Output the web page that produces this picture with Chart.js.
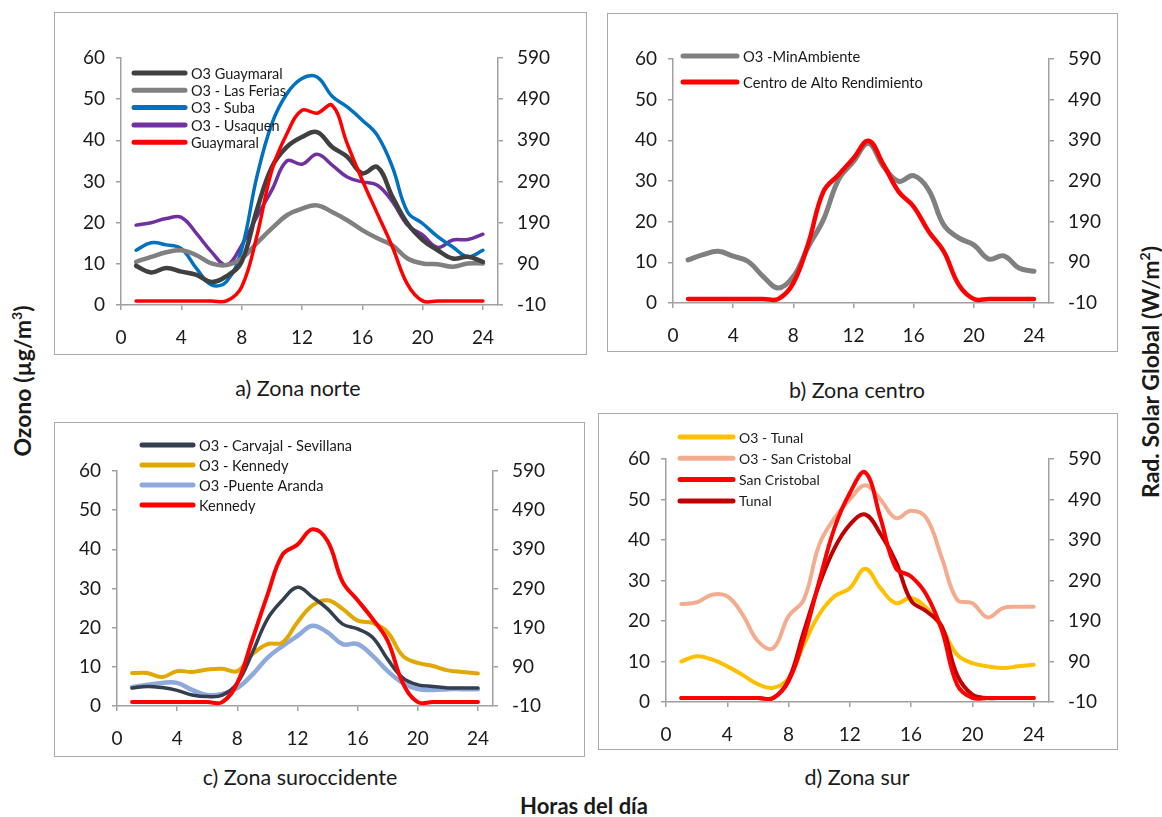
<!DOCTYPE html>
<html>
<head>
<meta charset="utf-8">
<script src="https://cdn.jsdelivr.net/npm/chart.js@4.4.1/dist/chart.umd.min.js"></script>
<style>
  html, body { margin: 0; padding: 0; background: #fff; }
  body { width: 1162px; height: 817px; position: relative; overflow: hidden; font-family: Lato, "Open Sans", sans-serif; color: #1a1a1a; }
  .frame { position: absolute; border: 1.5px solid #a9a9a9; box-sizing: border-box; }
  canvas { position: absolute; }
  .cap { position: absolute; font-size: 21.5px; line-height: 24px; white-space: nowrap; transform: translate(-50%, -50%); }
  .title { position: absolute; font-size: 22px; line-height: 24px; font-weight: bold; white-space: nowrap; transform: translate(-50%, -50%); }
  .vert { font-size: 23px; transform: translate(-50%, -50%) rotate(-90deg); }
  sup { font-size: 14px; line-height: 0; vertical-align: 9px; }
</style>
</head>
<body>
<script>
// Hour of day for every series
const hours = [1,2,3,4,5,6,7,8,9,10,11,12,13,14,15,16,17,18,19,20,21,22,23,24];

// Tick values
const hourTicks = [0,4,8,12,16,20,24];
const ozoneTicks = [0,10,20,30,40,50,60];
const radTicks = [-10,90,190,290,390,490,590];

// a) Zona norte — ozone (µg/m3) and global solar radiation (W/m2)
const o3Guaymaral = [9.5,7.9,9.0,8.1,7.3,5.6,7.0,10.5,23,33.5,38.4,40.8,42,38.4,36,32,33.5,26.3,19.8,15.8,13.3,11.3,11.7,10.5];
const o3LasFerias = [10.5,11.7,12.8,13.3,12.1,10.1,9.7,11.3,15,18.6,21.8,23.4,24.2,22.6,20.6,18.2,16.2,14.5,11.3,10.1,9.9,9.3,10.1,10.1];
const o3Suba = [13.3,15.1,14.6,13.7,8.9,4.9,5.7,13.5,31,44,51.3,55,55.4,50.7,48.1,44.9,41.2,33.5,22.6,19.8,16.6,14.1,11.7,13.3];
const o3Usaquen = [19.4,20,21,21.3,17.4,12.9,9.7,14.5,21.4,27.9,35,34.2,36.6,34,31.1,29.9,29.1,25.1,19.4,17,14,15.8,15.9,17.2];
const radGuaymaral = [0,0,0,0,0,0,0,34,156,317,406,463,456,475,382,293,212,131,40,0,0,0,0,0];

// b) Zona centro
const o3MinAmbiente = [10.6,11.9,12.7,11.5,10.2,6.5,3.7,6.5,13.9,20.5,30.3,34.8,39.3,33.6,29.9,31.3,27.8,19.2,16,14.3,10.8,11.6,8.6,7.8];
const radAltoRendimiento = [0,0,0,0,0,0,0,39,137,264,305,346,389,330,264,227,166,117,35,0,0,0,0,0];

// c) Zona suroccidente
const o3Carvajal = [4.6,5,4.7,4,2.8,2.4,2.8,5.9,13.6,22.2,27,30.3,27.8,24.8,20.9,19.7,17.5,11.9,7.2,5.4,5,4.6,4.6,4.6];
const o3Kennedy = [8.4,8.4,7.4,8.9,8.7,9.3,9.5,8.9,13.2,15.8,16.2,21.4,25.7,27,24.8,21.8,21.2,18.8,12.8,11,10.2,9.1,8.7,8.3];
const o3PuenteAranda = [4.8,5.4,5.9,5.9,4.1,2.8,3.1,4.6,8,12.3,15.3,17.9,20.5,18.8,15.8,15.8,12.8,8.9,5.9,4.3,4.1,4.3,4.3,4.3];
const radKennedy = [0,0,0,0,0,0,0,49,160,273,376,402,441,411,307,260,212,156,49,0,0,0,0,0];

// d) Zona sur
const o3Tunal = [10,11.3,10.5,8.8,6.7,4.4,3.5,5.9,14.2,21.6,26.1,28.1,32.9,28.1,24.4,25.7,23.2,18.3,11.7,9.6,8.8,8.4,8.8,9.2];
const o3SanCristobal = [24.2,24.6,26.5,26.1,21.6,15,13.3,21.2,25.3,38.8,45.4,50,53.5,50,45.4,47.2,45.4,35.6,25.3,24.4,20.9,23.2,23.5,23.5];
const radSanCristobal = [0,0,0,0,0,0,0,41,148,288,420,506,557,444,321,300,255,168,33,0,0,0,0,0];
const radTunal = [0,0,0,0,0,0,0,45,164,280,370,428,453,405,337,240,214,177,57,8,0,0,0,0];

const AXIS = '#a0a0a0';
const FONT = 'Lato, "Open Sans", sans-serif';
const INK = '#1a1a1a';

// In-plot key: a short line sample followed by the series name, stacked vertically
const keyPlugin = {
  id: 'seriesKey',
  afterDraw(chart, args, o) {
    const ctx = chart.ctx;
    ctx.save();
    ctx.font = o.size + 'px ' + FONT;
    ctx.textBaseline = 'middle';
    ctx.fillStyle = INK;
    chart.data.datasets.forEach((ds, i) => {
      const y = o.y + i * o.dy;
      ctx.beginPath();
      ctx.strokeStyle = ds.borderColor;
      ctx.lineWidth = o.lw;
      ctx.lineCap = 'round';
      ctx.moveTo(o.x, y);
      ctx.lineTo(o.x + o.len, y);
      ctx.stroke();
      ctx.fillText(ds.label, o.x + o.len + o.gap, y + 1);
    });
    ctx.restore();
  }
};

function axisBase(extra) {
  return Object.assign({
    grid: { drawOnChartArea: false, drawTicks: true, tickLength: 5, color: AXIS, lineWidth: 1.5 },
    border: { display: true, color: AXIS, width: 1.5 },
    ticks: { font: { family: FONT, size: 19 }, color: INK, autoSkip: false, maxRotation: 0 }
  }, extra);
}

function panel(p) {
  const [bx, by, bw, bh] = p.box;
  const [x0, y0, x1, y1] = p.plot;
  const WL = 48, WR = 62, HX = 46;

  const frame = document.createElement('div');
  frame.className = 'frame';
  Object.assign(frame.style, { left: bx + 'px', top: by + 'px', width: bw + 'px', height: bh + 'px' });
  document.body.appendChild(frame);

  const cv = document.createElement('canvas');
  cv.width = bw; cv.height = bh;
  cv.style.left = bx + 'px'; cv.style.top = by + 'px';
  document.body.appendChild(cv);

  new Chart(cv, {
    type: 'line',
    data: {
      datasets: p.series.map(s => ({
        label: s.label,
        data: hours.map((h, i) => ({ x: h, y: s.values[i] })),
        borderColor: s.color,
        borderWidth: s.width,
        yAxisID: s.rad ? 'yR' : 'y',
        order: s.rad ? 0 : 1,
        pointRadius: 0,
        tension: 0.4,
        fill: false,
        borderCapStyle: 'round',
        borderJoinStyle: 'round'
      }))
    },
    options: {
      responsive: false,
      animation: false,
      events: [],
      layout: { padding: { left: x0 - bx - WL, right: bx + bw - x1 - WR, top: y0 - by, bottom: by + bh - y1 - HX } },
      plugins: { legend: { display: false }, tooltip: { enabled: false }, seriesKey: p.key },
      scales: {
        x: axisBase({
          type: 'linear', min: 0, max: 25,
          afterBuildTicks: s => { s.ticks = hourTicks.map(v => ({ value: v })); },
          afterFit: s => { s.height = HX; },
          ticks: { font: { family: FONT, size: 19 }, color: INK, autoSkip: false, maxRotation: 0, padding: 16 }
        }),
        y: axisBase({
          position: 'left', min: 0, max: 60,
          afterBuildTicks: s => { s.ticks = ozoneTicks.map(v => ({ value: v })); },
          afterFit: s => { s.width = WL; },
          ticks: { font: { family: FONT, size: 19 }, color: INK, autoSkip: false, padding: 11 }
        }),
        yR: axisBase({
          position: 'right', min: -10, max: 590,
          afterBuildTicks: s => { s.ticks = radTicks.map(v => ({ value: v })); },
          afterFit: s => { s.width = WR; },
          ticks: { font: { family: FONT, size: 19 }, color: INK, autoSkip: false, padding: 14 }
        })
      }
    },
    plugins: [keyPlugin]
  });
}

panel({
  box: [54, 12, 533, 343], plot: [121, 58, 498, 305],
  key: { x: 80, y: 61, dy: 17.3, len: 51, gap: 6, lw: 5, size: 14.5 },
  series: [
    { label: 'O3 Guaymaral', values: o3Guaymaral, color: '#404040', width: 4.5 },
    { label: 'O3 - Las Ferias', values: o3LasFerias, color: '#808080', width: 4.5 },
    { label: 'O3 - Suba', values: o3Suba, color: '#0070c0', width: 3.5 },
    { label: 'O3 - Usaquen', values: o3Usaquen, color: '#7030a0', width: 3.5 },
    { label: 'Guaymaral', values: radGuaymaral, color: '#ff0000', width: 3.5, rad: true }
  ]
});

panel({
  box: [607, 13, 511, 339], plot: [673, 59, 1049, 303],
  key: { x: 76, y: 43, dy: 26, len: 54, gap: 6, lw: 5, size: 14.7 },
  series: [
    { label: 'O3 -MinAmbiente', values: o3MinAmbiente, color: '#808080', width: 5 },
    { label: 'Centro de Alto Rendimiento', values: radAltoRendimiento, color: '#ff0000', width: 4.5, rad: true }
  ]
});

panel({
  box: [54, 422, 531, 335], plot: [117, 471, 493, 706],
  key: { x: 88, y: 23, dy: 20, len: 51, gap: 6, lw: 5, size: 14.6 },
  series: [
    { label: 'O3 - Carvajal - Sevillana', values: o3Carvajal, color: '#333f50', width: 3.5 },
    { label: 'O3 - Kennedy', values: o3Kennedy, color: '#e0a800', width: 4 },
    { label: 'O3 -Puente Aranda', values: o3PuenteAranda, color: '#8ea9db', width: 4.5 },
    { label: 'Kennedy', values: radKennedy, color: '#ff0000', width: 4, rad: true }
  ]
});

panel({
  box: [598, 413, 520, 337], plot: [666, 459, 1049, 702],
  key: { x: 82, y: 24, dy: 21.3, len: 53, gap: 6, lw: 5, size: 14 },
  series: [
    { label: 'O3 - Tunal', values: o3Tunal, color: '#ffc000', width: 4 },
    { label: 'O3 - San Cristobal', values: o3SanCristobal, color: '#f4ac8e', width: 4 },
    { label: 'San Cristobal', values: radSanCristobal, color: '#ff0000', width: 4, rad: true },
    { label: 'Tunal', values: radTunal, color: '#c00000', width: 4, rad: true }
  ]
});
</script>

<div class="cap" style="left:298px; top:388px;">a) Zona norte</div>
<div class="cap" style="left:857px; top:390px;">b) Zona centro</div>
<div class="cap" style="left:300px; top:777px;">c) Zona suroccidente</div>
<div class="cap" style="left:857px; top:777px;">d) Zona sur</div>
<div class="title" style="left:584px; top:806px;">Horas del día</div>
<div class="title vert" style="left:22px; top:381px;">Ozono (µg/m<sup>3</sup>)</div>
<div class="title vert" style="left:1150px; top:372px;">Rad. Solar Global (W/m<sup>2</sup>)</div>
</body>
</html>
